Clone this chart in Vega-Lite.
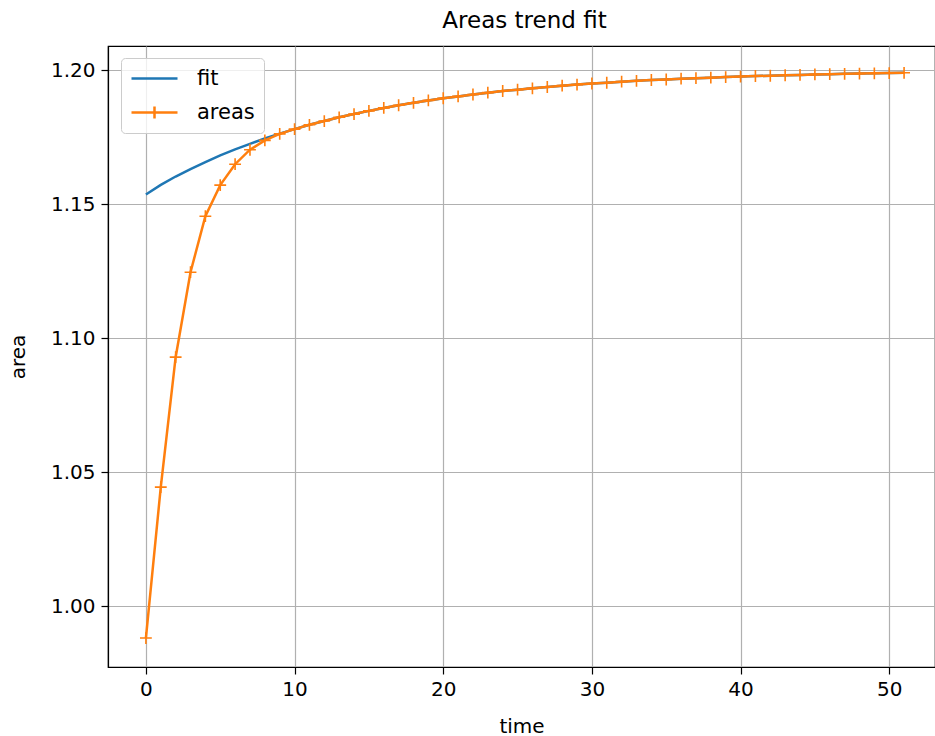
{
  "$schema": "https://vega.github.io/schema/vega-lite/v6.json",
  "width": 827,
  "height": 621,
  "autosize": {"type": "none"},
  "padding": {"left": 108, "top": 46, "right": 0, "bottom": 69},
  "background": "white",
  "title": {
    "text": "Areas trend fit",
    "font": "DejaVu Sans",
    "fontSize": 23,
    "fontWeight": "normal",
    "color": "#000000",
    "anchor": "middle",
    "offset": 13,
    "dx": 3
  },
  "config": {
    "font": "DejaVu Sans",
    "view": {"stroke": "#000000", "strokeWidth": 1.2},
    "axis": {
      "labelFont": "DejaVu Sans",
      "labelFontSize": 20,
      "labelColor": "#000000",
      "titleFont": "DejaVu Sans",
      "titleFontSize": 20,
      "titleFontWeight": "normal",
      "titleColor": "#000000",
      "domainColor": "#000000",
      "domainWidth": 1.2,
      "tickColor": "#000000",
      "tickWidth": 1.2,
      "tickSize": 7,
      "gridColor": "#b0b0b0",
      "gridWidth": 1.2,
      "gridOpacity": 1
    }
  },
  "data": {
    "values": [
      {"time": 0, "area": 1.1536, "series": "fit"},
      {"time": 1, "area": 1.1572, "series": "fit"},
      {"time": 2, "area": 1.1603, "series": "fit"},
      {"time": 3, "area": 1.1631, "series": "fit"},
      {"time": 4, "area": 1.1657, "series": "fit"},
      {"time": 5, "area": 1.1682, "series": "fit"},
      {"time": 6, "area": 1.1704, "series": "fit"},
      {"time": 7, "area": 1.1725, "series": "fit"},
      {"time": 8, "area": 1.1745, "series": "fit"},
      {"time": 9, "area": 1.1763, "series": "fit"},
      {"time": 10, "area": 1.1780, "series": "fit"},
      {"time": 11, "area": 1.1796, "series": "fit"},
      {"time": 12, "area": 1.1810, "series": "fit"},
      {"time": 13, "area": 1.1824, "series": "fit"},
      {"time": 14, "area": 1.1836, "series": "fit"},
      {"time": 15, "area": 1.1848, "series": "fit"},
      {"time": 16, "area": 1.1859, "series": "fit"},
      {"time": 17, "area": 1.1869, "series": "fit"},
      {"time": 18, "area": 1.1878, "series": "fit"},
      {"time": 19, "area": 1.1887, "series": "fit"},
      {"time": 20, "area": 1.1895, "series": "fit"},
      {"time": 21, "area": 1.1902, "series": "fit"},
      {"time": 22, "area": 1.1909, "series": "fit"},
      {"time": 23, "area": 1.1916, "series": "fit"},
      {"time": 24, "area": 1.1922, "series": "fit"},
      {"time": 25, "area": 1.1927, "series": "fit"},
      {"time": 26, "area": 1.1932, "series": "fit"},
      {"time": 27, "area": 1.1937, "series": "fit"},
      {"time": 28, "area": 1.1942, "series": "fit"},
      {"time": 29, "area": 1.1946, "series": "fit"},
      {"time": 30, "area": 1.1950, "series": "fit"},
      {"time": 31, "area": 1.1953, "series": "fit"},
      {"time": 32, "area": 1.1957, "series": "fit"},
      {"time": 33, "area": 1.1960, "series": "fit"},
      {"time": 34, "area": 1.1963, "series": "fit"},
      {"time": 35, "area": 1.1965, "series": "fit"},
      {"time": 36, "area": 1.1968, "series": "fit"},
      {"time": 37, "area": 1.1970, "series": "fit"},
      {"time": 38, "area": 1.1972, "series": "fit"},
      {"time": 39, "area": 1.1974, "series": "fit"},
      {"time": 40, "area": 1.1976, "series": "fit"},
      {"time": 41, "area": 1.1978, "series": "fit"},
      {"time": 42, "area": 1.1979, "series": "fit"},
      {"time": 43, "area": 1.1981, "series": "fit"},
      {"time": 44, "area": 1.1982, "series": "fit"},
      {"time": 45, "area": 1.1984, "series": "fit"},
      {"time": 46, "area": 1.1985, "series": "fit"},
      {"time": 47, "area": 1.1986, "series": "fit"},
      {"time": 48, "area": 1.1987, "series": "fit"},
      {"time": 49, "area": 1.1988, "series": "fit"},
      {"time": 50, "area": 1.1989, "series": "fit"},
      {"time": 51, "area": 1.1990, "series": "fit"},
      {"time": 0, "area": 0.9881, "series": "areas"},
      {"time": 1, "area": 1.0444, "series": "areas"},
      {"time": 2, "area": 1.0929, "series": "areas"},
      {"time": 3, "area": 1.1246, "series": "areas"},
      {"time": 4, "area": 1.1455, "series": "areas"},
      {"time": 5, "area": 1.1571, "series": "areas"},
      {"time": 6, "area": 1.1649, "series": "areas"},
      {"time": 7, "area": 1.1703, "series": "areas"},
      {"time": 8, "area": 1.1738, "series": "areas"},
      {"time": 9, "area": 1.1762, "series": "areas"},
      {"time": 10, "area": 1.1780, "series": "areas"},
      {"time": 11, "area": 1.1796, "series": "areas"},
      {"time": 12, "area": 1.1810, "series": "areas"},
      {"time": 13, "area": 1.1824, "series": "areas"},
      {"time": 14, "area": 1.1836, "series": "areas"},
      {"time": 15, "area": 1.1848, "series": "areas"},
      {"time": 16, "area": 1.1859, "series": "areas"},
      {"time": 17, "area": 1.1869, "series": "areas"},
      {"time": 18, "area": 1.1878, "series": "areas"},
      {"time": 19, "area": 1.1887, "series": "areas"},
      {"time": 20, "area": 1.1895, "series": "areas"},
      {"time": 21, "area": 1.1902, "series": "areas"},
      {"time": 22, "area": 1.1909, "series": "areas"},
      {"time": 23, "area": 1.1916, "series": "areas"},
      {"time": 24, "area": 1.1922, "series": "areas"},
      {"time": 25, "area": 1.1927, "series": "areas"},
      {"time": 26, "area": 1.1932, "series": "areas"},
      {"time": 27, "area": 1.1937, "series": "areas"},
      {"time": 28, "area": 1.1942, "series": "areas"},
      {"time": 29, "area": 1.1946, "series": "areas"},
      {"time": 30, "area": 1.1950, "series": "areas"},
      {"time": 31, "area": 1.1953, "series": "areas"},
      {"time": 32, "area": 1.1957, "series": "areas"},
      {"time": 33, "area": 1.1960, "series": "areas"},
      {"time": 34, "area": 1.1963, "series": "areas"},
      {"time": 35, "area": 1.1965, "series": "areas"},
      {"time": 36, "area": 1.1968, "series": "areas"},
      {"time": 37, "area": 1.1970, "series": "areas"},
      {"time": 38, "area": 1.1972, "series": "areas"},
      {"time": 39, "area": 1.1974, "series": "areas"},
      {"time": 40, "area": 1.1976, "series": "areas"},
      {"time": 41, "area": 1.1978, "series": "areas"},
      {"time": 42, "area": 1.1979, "series": "areas"},
      {"time": 43, "area": 1.1981, "series": "areas"},
      {"time": 44, "area": 1.1982, "series": "areas"},
      {"time": 45, "area": 1.1984, "series": "areas"},
      {"time": 46, "area": 1.1985, "series": "areas"},
      {"time": 47, "area": 1.1986, "series": "areas"},
      {"time": 48, "area": 1.1987, "series": "areas"},
      {"time": 49, "area": 1.1988, "series": "areas"},
      {"time": 50, "area": 1.1989, "series": "areas"},
      {"time": 51, "area": 1.1990, "series": "areas"}
    ]
  },
  "encoding": {
    "x": {
      "field": "time",
      "type": "quantitative",
      "title": "time",
      "scale": {"domain": [-2.55, 53.08], "nice": false, "zero": false},
      "axis": {"values": [0, 10, 20, 30, 40, 50], "labelPadding": 5, "titlePadding": 17}
    },
    "y": {
      "field": "area",
      "type": "quantitative",
      "title": "area",
      "scale": {"domain": [0.9773, 1.209], "nice": false, "zero": false},
      "axis": {"values": [1.0, 1.05, 1.1, 1.15, 1.2], "format": ".2f", "labelPadding": 6, "titlePadding": 22}
    },
    "color": {
      "field": "series",
      "type": "nominal",
      "scale": {"domain": ["fit", "areas"], "range": ["#1f77b4", "#ff7f0e"]},
      "legend": {
        "title": null,
        "orient": "none",
        "legendX": 13,
        "legendY": 12,
        "fillColor": "rgba(255,255,255,0.8)",
        "strokeColor": "#cccccc",
        "cornerRadius": 4,
        "padding": 9,
        "rowPadding": 12,
        "labelFont": "DejaVu Sans",
        "labelFontSize": 21,
        "labelColor": "#000000",
        "labelOffset": 31,
        "symbolSize": 400,
        "symbolOffset": 13,
        "symbolStrokeWidth": 2.5,
        "symbolType": "M-2.3,0H2.3",
        "encode": {
          "symbols": {
            "update": {
              "shape": [
                {"test": "datum.value === 'areas'", "value": "M-2.3,0H2.3M0,-0.6V0.6"},
                {"value": "M-2.3,0H2.3"}
              ],
              "fill": {"value": "transparent"}
            }
          }
        }
      }
    }
  },
  "layer": [
    {
      "transform": [{"filter": "datum.series === 'fit'"}],
      "mark": {"type": "line", "strokeWidth": 2.5, "clip": true}
    },
    {
      "transform": [{"filter": "datum.series === 'areas'"}],
      "mark": {"type": "line", "strokeWidth": 2.5, "clip": true}
    },
    {
      "transform": [{"filter": "datum.series === 'areas'"}],
      "mark": {"type": "point", "shape": "M-1,0H1M0,-1V1", "filled": false, "strokeWidth": 1.6, "size": 140, "opacity": 1, "clip": true}
    }
  ]
}
